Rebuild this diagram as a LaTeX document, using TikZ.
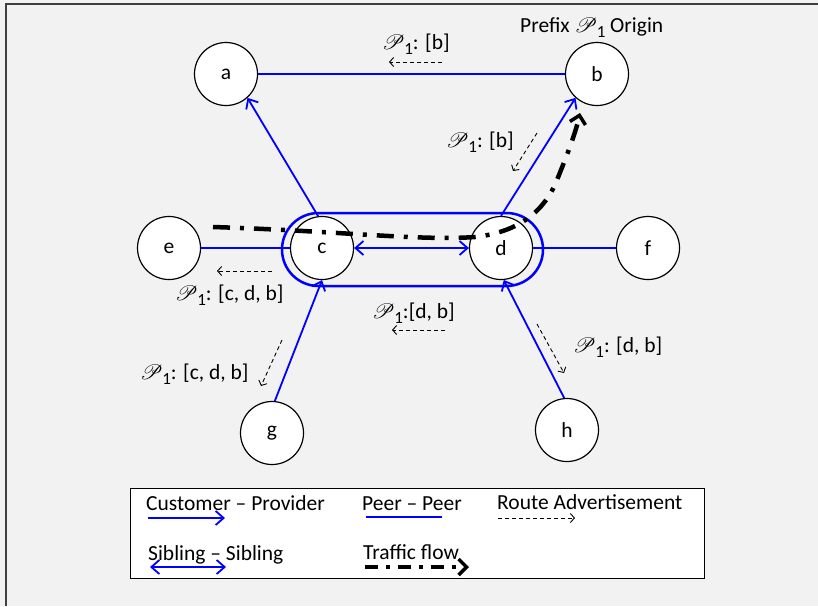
\documentclass[tikz,border=0pt]{standalone}
\usepackage{fontspec}
\setmainfont{Carlito}
\usepackage{mathrsfs}
\usetikzlibrary{arrows.meta}
\definecolor{bgc}{HTML}{F2F2F2}
\definecolor{framec}{HTML}{404040}
\newcommand\pfx{$\mathscr{P}$\kern-0.5pt\raisebox{-0.25em}{\fontsize{17}{17}\selectfont 1}}
\begin{document}
\begin{tikzpicture}[x=1pt,y=-1pt,
  every node/.style={font=\fontsize{21.5}{24}\selectfont},
  asnode/.style={circle,draw=black,line width=1.2pt,fill=white,minimum size=63pt,inner sep=0pt},
  cp/.style={draw=blue,line width=1.8pt,-{Straight Barb[length=8pt,width=14pt]}},
  pp/.style={draw=blue,line width=1.8pt},
  ss/.style={draw=blue,line width=1.8pt,{Straight Barb[length=8pt,width=14pt]}-{Straight Barb[length=8pt,width=14pt]}},
  adv/.style={draw=black,line width=0.9pt,dash pattern=on 4pt off 3pt,-{Straight Barb[length=4pt,width=9pt]}},
  traffic/.style={draw=black,line width=4.5pt,dash pattern=on 17pt off 10pt on 4pt off 10pt,-{Straight Barb[length=8pt,width=16pt,line width=3.5pt]}},
  lbl/.style={inner sep=0pt,anchor=base west},
  sib/.style={draw=blue,line width=2.5pt,rounded corners=36.5pt}
]
\useasboundingbox (0,0) rectangle (818,606);
\fill[bgc] (0,0) rectangle (818,606);
\draw[framec,line width=1.6pt] (6,606) -- (6,4) -- (818,4);

% sibling enclosure
\draw[sib] (282,213) rectangle (543,286);

% nodes
\node[asnode] (a) at (226,74) {a};
\node[asnode] (b) at (597,74) {b};
\node[asnode] (e) at (169,248) {e};
\node[asnode] (c) at (322,248) {c};
\node[asnode] (d) at (501,248) {d};
\node[asnode] (f) at (648,248) {f};
\node[asnode] (g) at (272,433) {g};
\node[asnode] (h) at (567,430) {h};

% relationships
\draw[pp] (a.east) -- (b.west);
\draw[cp] (c.97) -- (a.-48);
\draw[cp] (d.90) -- (b.228);
\draw[pp] (e.east) -- (c.west);
\draw[ss] (c.east) -- (d.west);
\draw[pp] (d.east) -- (f.west);
\draw[cp] (g.85) -- (c.270);
\draw[cp] (h.95) -- (d.275);

% labels
\node[lbl] (pre) at (520,32) {Prefix \pfx\ Origin};
\node[lbl] (l1) at (382,49) {\pfx: [b]};
\node[lbl] (l2) at (446,147) {\pfx: [b]};
\node[lbl] (l3) at (175,300) {\pfx: [c, d, b]};
\node[lbl] (l4) at (372,318) {\pfx:[d, b]};
\node[lbl] (l5) at (140,379) {\pfx: [c, d, b]};
\node[lbl] (l6) at (573,352) {\pfx: [d, b]};

% route advertisements
\coordinate (r1s) at (442,62);  \coordinate (r1e) at (389,62);
\coordinate (r2s) at (537,133); \coordinate (r2e) at (513,171);
\coordinate (r3s) at (272,271); \coordinate (r3e) at (217,271);
\coordinate (r4s) at (445,330); \coordinate (r4e) at (392,330);
\coordinate (r5s) at (282,340); \coordinate (r5e) at (261,386);
\coordinate (r6s) at (537,324); \coordinate (r6e) at (564,373);
\draw[adv] (r1s) -- (r1e);
\draw[adv] (r2s) -- (r2e);
\draw[adv] (r3s) -- (r3e);
\draw[adv] (r4s) -- (r4e);
\draw[adv] (r5s) -- (r5e);
\draw[adv] (r6s) -- (r6e);

% traffic flow
\coordinate (t0) at (213,227);
\coordinate (t1) at (475,237);
\coordinate (t2) at (557,180);
\coordinate (t3) at (580,113);
\draw[traffic] (t0) .. controls (340,231) and (420,241) .. (t1)
  .. controls (520,232) and (545,210) .. (t2)
  .. controls (567,155) and (575,135) .. (t3);

% legend
\node[draw=black,fill=white,line width=1.2pt,minimum width=574pt,minimum height=90pt,inner sep=0pt,anchor=north west] (legend) at (130,488) {};
\node[lbl] (lg1) at (146,510) {Customer – Provider};
\node[lbl] (lg2) at (362,510) {Peer – Peer};
\node[lbl] (lg3) at (497,509) {Route Advertisement};
\node[lbl] (lg4) at (148,560) {Sibling – Sibling};
\node[lbl] (lg5) at (363,559) {Traffic flow};
\coordinate (k1s) at (148,518); \coordinate (k1e) at (225,518);
\coordinate (k2s) at (366,517); \coordinate (k2e) at (442,517);
\coordinate (k3s) at (498,518); \coordinate (k3e) at (575,518);
\coordinate (k4s) at (150,567); \coordinate (k4e) at (226,567);
\coordinate (k5s) at (365,567); \coordinate (k5e) at (469,567);
\draw[cp] (k1s) -- (k1e);
\draw[pp] (k2s) -- (k2e);
\draw[adv] (k3s) -- (k3e);
\draw[ss] (k4s) -- (k4e);
\draw[traffic,dash pattern=on 13pt off 8pt on 4pt off 8pt] (k5s) -- (k5e);
\end{tikzpicture}
\end{document}
